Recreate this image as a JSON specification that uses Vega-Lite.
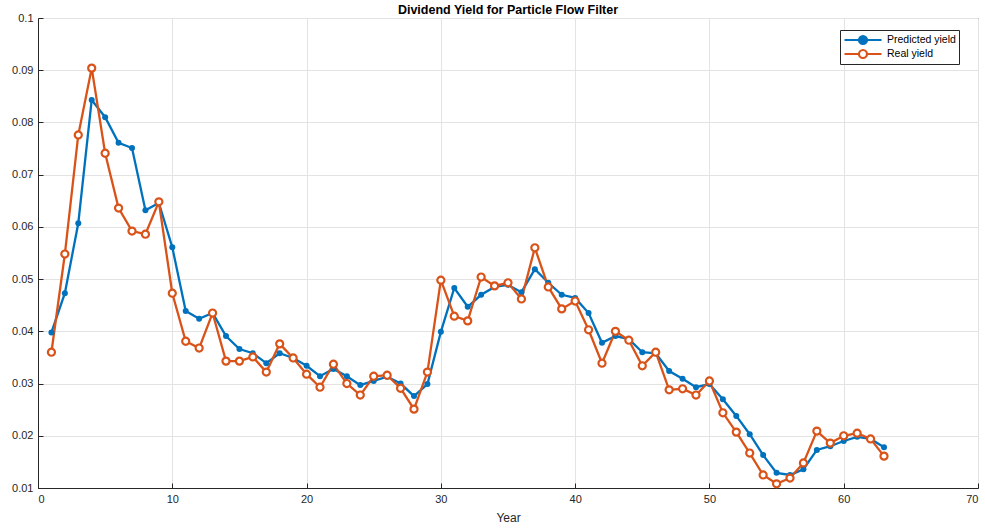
{
  "$schema": "https://vega.github.io/schema/vega-lite/v6.json",
  "width": 940,
  "height": 470,
  "autosize": {"type": "none"},
  "padding": {"left": 38, "top": 18, "right": 7, "bottom": 43},
  "background": "white",
  "title": {"text": "Dividend Yield for Particle Flow Filter", "font": "Liberation Sans", "fontSize": 12.5, "fontWeight": "bold", "color": "#000000", "offset": -4, "anchor": "middle"},
  "config": {
    "view": {"stroke": "#262626", "strokeWidth": 1},
    "axis": {"labelFont": "Liberation Sans", "titleFont": "Liberation Sans", "labelFontSize": 11, "titleFontSize": 12, "labelColor": "#262626", "titleColor": "#262626", "titleFontWeight": "normal", "domainColor": "#262626", "tickColor": "#262626", "gridColor": "#e3e3e3", "gridOpacity": 1}
  },
  "data": {"values": [
    {"year":1,"series":"Predicted yield","value":0.0398},{"year":2,"series":"Predicted yield","value":0.0473},{"year":3,"series":"Predicted yield","value":0.0607},{"year":4,"series":"Predicted yield","value":0.0843},{"year":5,"series":"Predicted yield","value":0.0810},{"year":6,"series":"Predicted yield","value":0.0761},{"year":7,"series":"Predicted yield","value":0.0751},{"year":8,"series":"Predicted yield","value":0.0632},{"year":9,"series":"Predicted yield","value":0.0646},{"year":10,"series":"Predicted yield","value":0.0561},
    {"year":11,"series":"Predicted yield","value":0.0439},{"year":12,"series":"Predicted yield","value":0.0424},{"year":13,"series":"Predicted yield","value":0.0435},{"year":14,"series":"Predicted yield","value":0.0391},{"year":15,"series":"Predicted yield","value":0.0366},{"year":16,"series":"Predicted yield","value":0.0358},{"year":17,"series":"Predicted yield","value":0.0339},{"year":18,"series":"Predicted yield","value":0.0358},{"year":19,"series":"Predicted yield","value":0.0349},{"year":20,"series":"Predicted yield","value":0.0334},
    {"year":21,"series":"Predicted yield","value":0.0314},{"year":22,"series":"Predicted yield","value":0.0328},{"year":23,"series":"Predicted yield","value":0.0314},{"year":24,"series":"Predicted yield","value":0.0297},{"year":25,"series":"Predicted yield","value":0.0305},{"year":26,"series":"Predicted yield","value":0.0313},{"year":27,"series":"Predicted yield","value":0.0300},{"year":28,"series":"Predicted yield","value":0.0276},{"year":29,"series":"Predicted yield","value":0.0299},{"year":30,"series":"Predicted yield","value":0.0399},
    {"year":31,"series":"Predicted yield","value":0.0483},{"year":32,"series":"Predicted yield","value":0.0447},{"year":33,"series":"Predicted yield","value":0.0470},{"year":34,"series":"Predicted yield","value":0.0485},{"year":35,"series":"Predicted yield","value":0.0489},{"year":36,"series":"Predicted yield","value":0.0475},{"year":37,"series":"Predicted yield","value":0.0519},{"year":38,"series":"Predicted yield","value":0.0493},{"year":39,"series":"Predicted yield","value":0.0470},{"year":40,"series":"Predicted yield","value":0.0464},
    {"year":41,"series":"Predicted yield","value":0.0435},{"year":42,"series":"Predicted yield","value":0.0378},{"year":43,"series":"Predicted yield","value":0.0391},{"year":44,"series":"Predicted yield","value":0.0385},{"year":45,"series":"Predicted yield","value":0.0360},{"year":46,"series":"Predicted yield","value":0.0358},{"year":47,"series":"Predicted yield","value":0.0324},{"year":48,"series":"Predicted yield","value":0.0309},{"year":49,"series":"Predicted yield","value":0.0293},{"year":50,"series":"Predicted yield","value":0.0299},
    {"year":51,"series":"Predicted yield","value":0.0270},{"year":52,"series":"Predicted yield","value":0.0238},{"year":53,"series":"Predicted yield","value":0.0203},{"year":54,"series":"Predicted yield","value":0.0163},{"year":55,"series":"Predicted yield","value":0.0129},{"year":56,"series":"Predicted yield","value":0.0125},{"year":57,"series":"Predicted yield","value":0.0136},{"year":58,"series":"Predicted yield","value":0.0173},{"year":59,"series":"Predicted yield","value":0.0180},{"year":60,"series":"Predicted yield","value":0.0190},
    {"year":61,"series":"Predicted yield","value":0.0198},{"year":62,"series":"Predicted yield","value":0.0194},{"year":63,"series":"Predicted yield","value":0.0178},
    {"year":1,"series":"Real yield","value":0.0360},{"year":2,"series":"Real yield","value":0.0548},{"year":3,"series":"Real yield","value":0.0776},{"year":4,"series":"Real yield","value":0.0904},{"year":5,"series":"Real yield","value":0.0741},{"year":6,"series":"Real yield","value":0.0636},{"year":7,"series":"Real yield","value":0.0592},{"year":8,"series":"Real yield","value":0.0586},{"year":9,"series":"Real yield","value":0.0648},{"year":10,"series":"Real yield","value":0.0473},
    {"year":11,"series":"Real yield","value":0.0381},{"year":12,"series":"Real yield","value":0.0368},{"year":13,"series":"Real yield","value":0.0435},{"year":14,"series":"Real yield","value":0.0343},{"year":15,"series":"Real yield","value":0.0343},{"year":16,"series":"Real yield","value":0.0351},{"year":17,"series":"Real yield","value":0.0322},{"year":18,"series":"Real yield","value":0.0376},{"year":19,"series":"Real yield","value":0.0349},{"year":20,"series":"Real yield","value":0.0318},
    {"year":21,"series":"Real yield","value":0.0293},{"year":22,"series":"Real yield","value":0.0337},{"year":23,"series":"Real yield","value":0.0300},{"year":24,"series":"Real yield","value":0.0278},{"year":25,"series":"Real yield","value":0.0314},{"year":26,"series":"Real yield","value":0.0316},{"year":27,"series":"Real yield","value":0.0291},{"year":28,"series":"Real yield","value":0.0251},{"year":29,"series":"Real yield","value":0.0322},{"year":30,"series":"Real yield","value":0.0498},
    {"year":31,"series":"Real yield","value":0.0429},{"year":32,"series":"Real yield","value":0.0420},{"year":33,"series":"Real yield","value":0.0504},{"year":34,"series":"Real yield","value":0.0487},{"year":35,"series":"Real yield","value":0.0493},{"year":36,"series":"Real yield","value":0.0462},{"year":37,"series":"Real yield","value":0.0560},{"year":38,"series":"Real yield","value":0.0485},{"year":39,"series":"Real yield","value":0.0443},{"year":40,"series":"Real yield","value":0.0458},
    {"year":41,"series":"Real yield","value":0.0403},{"year":42,"series":"Real yield","value":0.0339},{"year":43,"series":"Real yield","value":0.0400},{"year":44,"series":"Real yield","value":0.0383},{"year":45,"series":"Real yield","value":0.0334},{"year":46,"series":"Real yield","value":0.0360},{"year":47,"series":"Real yield","value":0.0288},{"year":48,"series":"Real yield","value":0.0290},{"year":49,"series":"Real yield","value":0.0278},{"year":50,"series":"Real yield","value":0.0305},
    {"year":51,"series":"Real yield","value":0.0244},{"year":52,"series":"Real yield","value":0.0207},{"year":53,"series":"Real yield","value":0.0167},{"year":54,"series":"Real yield","value":0.0125},{"year":55,"series":"Real yield","value":0.0108},{"year":56,"series":"Real yield","value":0.0119},{"year":57,"series":"Real yield","value":0.0148},{"year":58,"series":"Real yield","value":0.0209},{"year":59,"series":"Real yield","value":0.0186},{"year":60,"series":"Real yield","value":0.0200},
    {"year":61,"series":"Real yield","value":0.0205},{"year":62,"series":"Real yield","value":0.0194},{"year":63,"series":"Real yield","value":0.0161}
  ]},
  "encoding": {
    "x": {"field": "year", "type": "quantitative", "scale": {"domain": [0, 70], "nice": false, "zero": false}, "axis": {"title": "Year", "values": [0,10,20,30,40,50,60,70], "tickSize": -5, "labelPadding": 10, "titlePadding": 8, "grid": true}},
    "y": {"field": "value", "type": "quantitative", "scale": {"domain": [0.01, 0.1], "nice": false, "zero": false}, "axis": {"title": null, "values": [0.01,0.02,0.03,0.04,0.05,0.06,0.07,0.08,0.09,0.1], "format": ".2~f", "tickSize": -5, "labelPadding": 10, "grid": true}}
  },
  "layer": [
    {
      "mark": {"type": "line", "strokeWidth": 2.3},
      "encoding": {
        "color": {
          "field": "series", "type": "nominal",
          "scale": {"domain": ["Predicted yield", "Real yield"], "range": ["#0072BD", "#D95319"]},
          "legend": {
            "title": null, "orient": "none", "legendX": 802, "legendY": 12,
            "fillColor": "white", "strokeColor": "#262626", "padding": 3,
            "labelFont": "Liberation Sans", "labelFontSize": 10.5, "labelColor": "#000000",
            "symbolType": "M-1,0L1.41,0M2.75,0L5.17,0M2.75,0A0.67,0.67 0 1,1 1.41,0A0.67,0.67 0 1,1 2.75,0Z",
            "symbolSize": 144, "symbolStrokeWidth": 2.2, "rowPadding": 0, "clipHeight": 14, "labelOffset": 29,
            "encode": {"symbols": {"update": {"fill": {"signal": "datum.value == 'Predicted yield' ? '#0072BD' : 'white'"}}}}
          }
        }
      }
    },
    {
      "transform": [{"filter": "datum.series == 'Predicted yield'"}],
      "mark": {"type": "point", "shape": "circle", "filled": true, "size": 36, "color": "#0072BD", "opacity": 1}
    },
    {
      "transform": [{"filter": "datum.series == 'Real yield'"}],
      "mark": {"type": "point", "shape": "circle", "filled": false, "size": 50, "stroke": "#D95319", "fill": "white", "fillOpacity": 1, "strokeWidth": 2.2, "opacity": 1}
    }
  ]
}
